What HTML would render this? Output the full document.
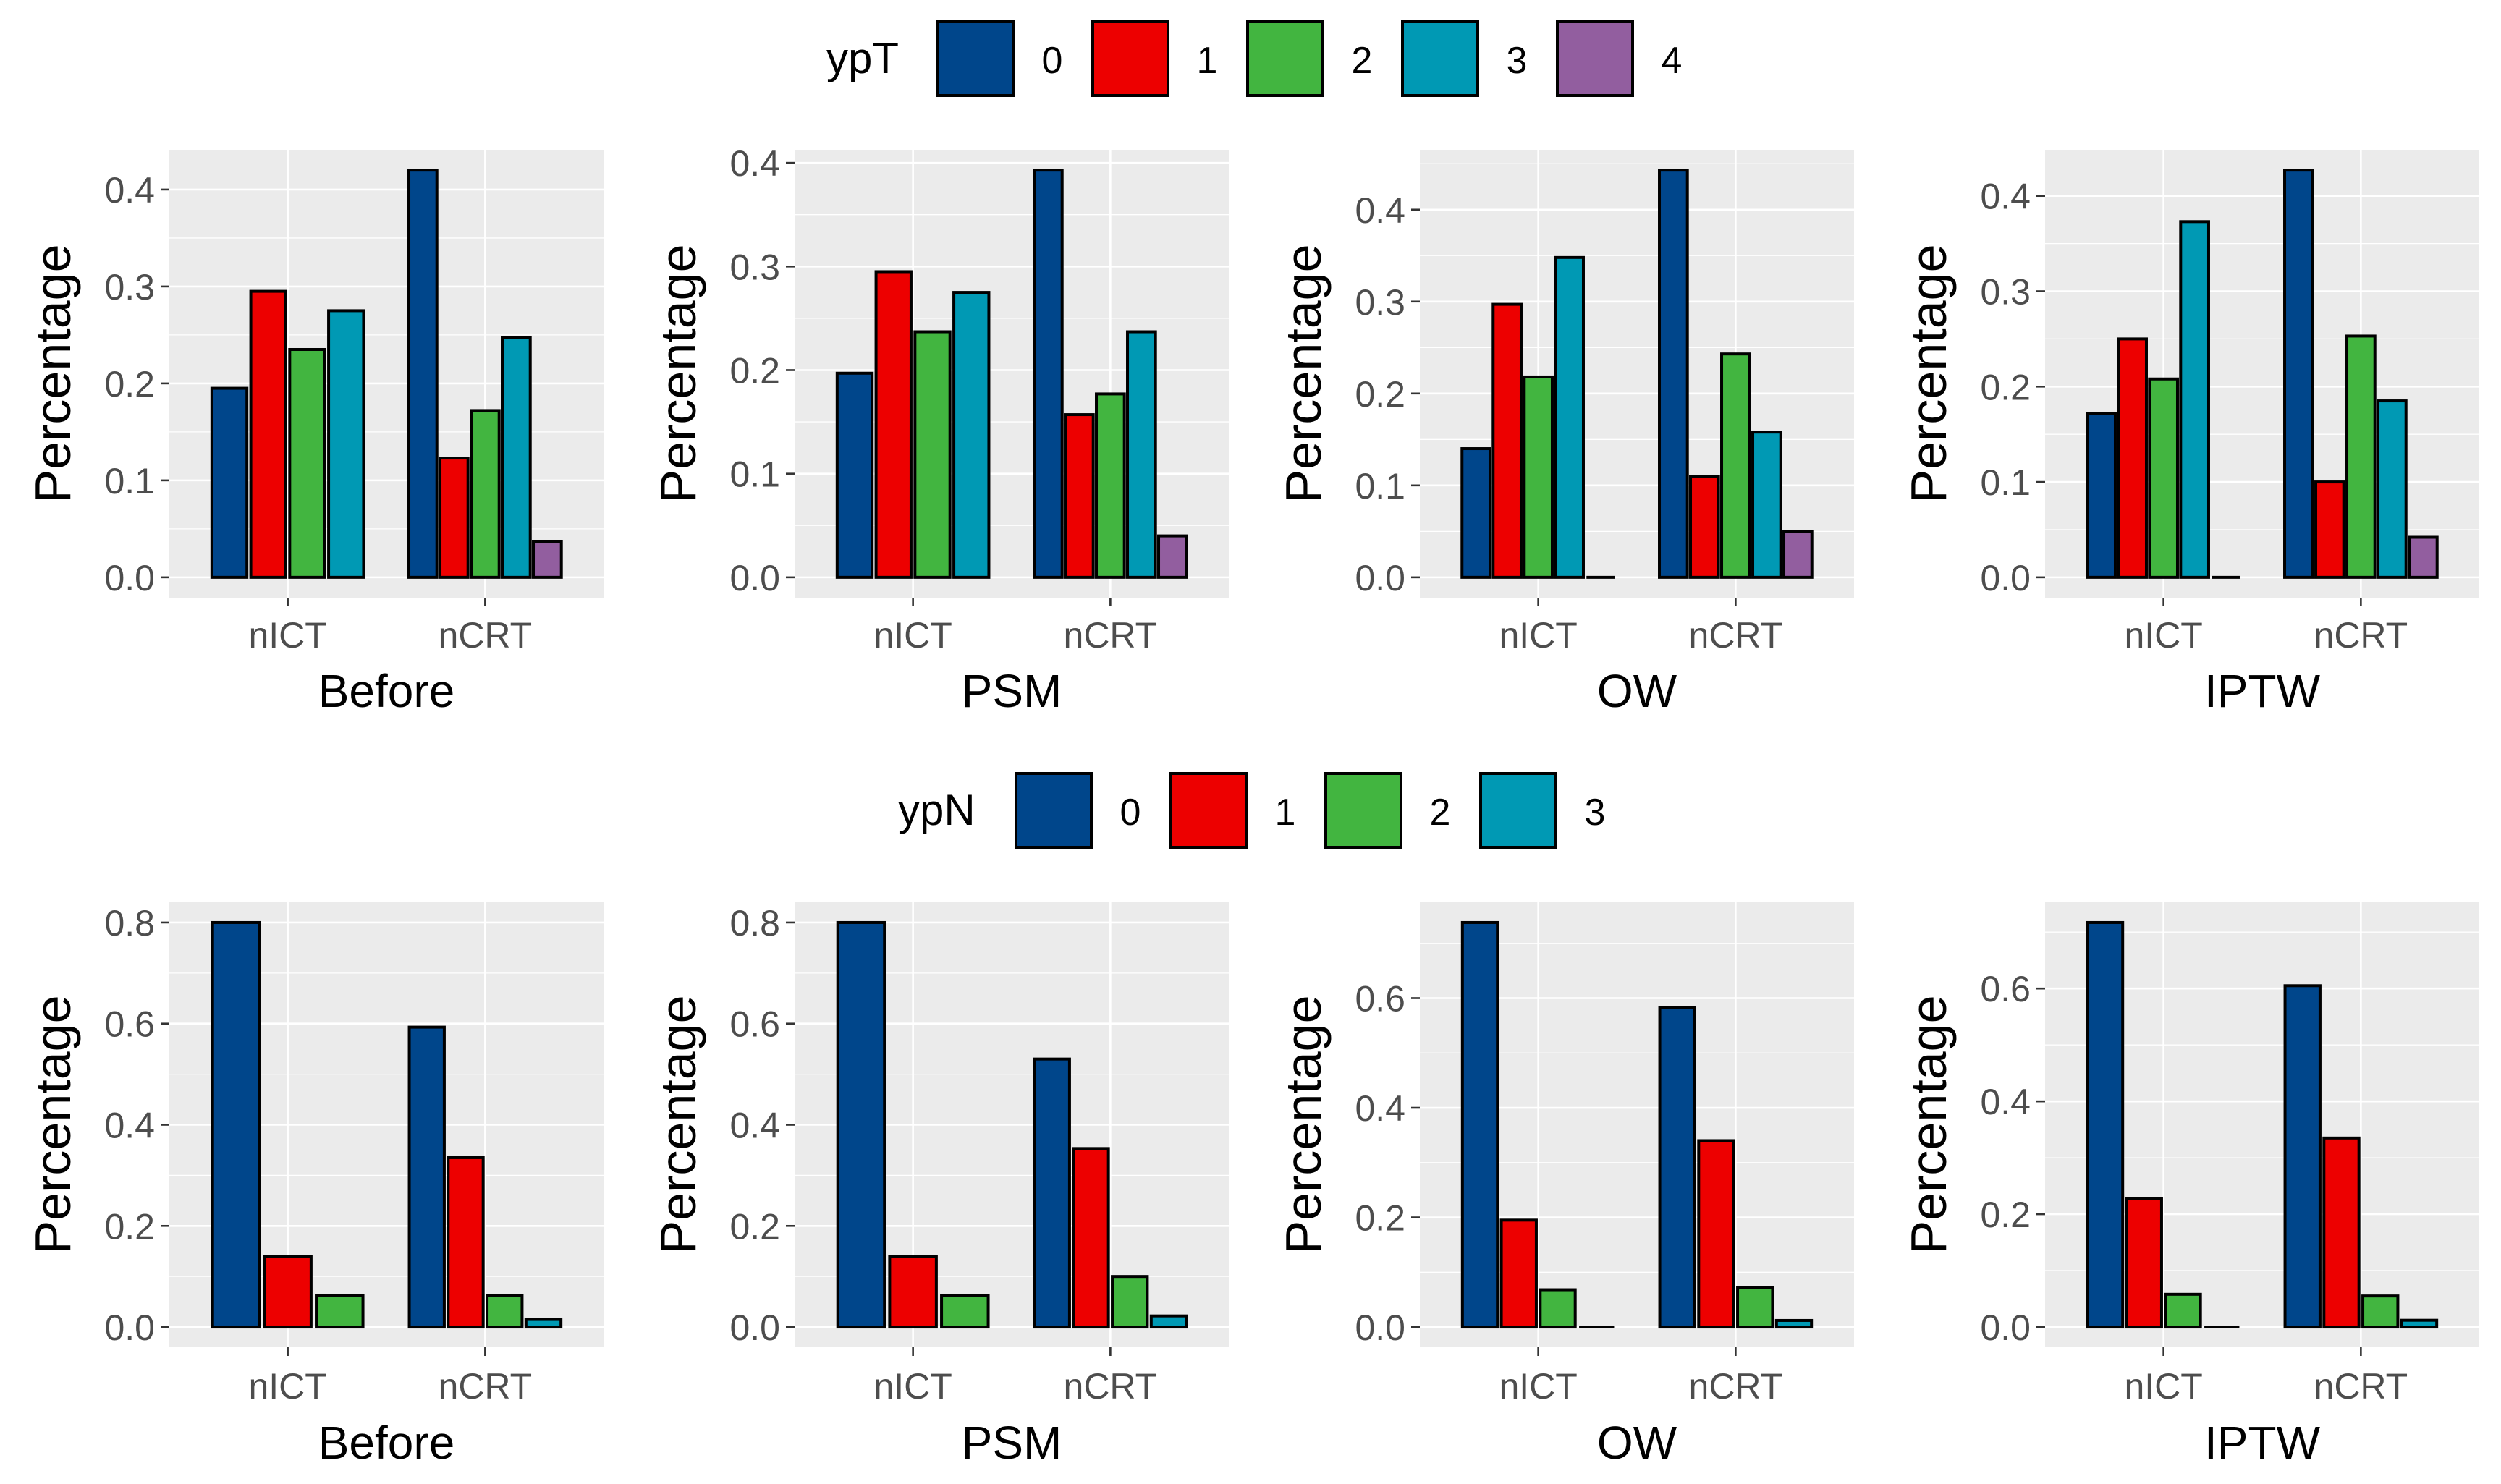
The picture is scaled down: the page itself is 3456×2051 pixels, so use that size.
<!DOCTYPE html>
<html><head><meta charset="utf-8"><style>
html,body{margin:0;padding:0;background:#fff;}
svg{display:block;font-family:"Liberation Sans",Arial,sans-serif;}
</style></head><body>
<svg id="chart" width="3456" height="2051" viewBox="0 0 3456 2051" xmlns="http://www.w3.org/2000/svg"></svg>
<script>
const groups = ["nICT","nCRT"];
const methods = ["Before","PSM","OW","IPTW"];
const colors = ["#00468B","#ED0000","#42B540","#0099B4","#925E9F"];
// Top row (ypT) values per method: [nICT values, nCRT values]
const ypT_Before = [[0.195,0.295,0.235,0.275],[0.42,0.123,0.172,0.247,0.037]];
const ypT_PSM = [[0.197,0.295,0.237,0.275],[0.393,0.157,0.177,0.237,0.04]];
const ypT_OW = [[0.14,0.297,0.218,0.348,0],[0.443,0.11,0.243,0.158,0.05]];
const ypT_IPTW = [[0.172,0.25,0.208,0.373,0],[0.427,0.1,0.253,0.185,0.042]];
// Bottom row (ypN)
const ypN_Before = [[0.80,0.14,0.063],[0.593,0.335,0.063,0.015]];
const ypN_PSM = [[0.80,0.14,0.063],[0.53,0.353,0.1,0.022]];
const ypN_OW = [[0.738,0.195,0.068,0],[0.583,0.34,0.072,0.012]];
const ypN_IPTW = [[0.717,0.228,0.058,0],[0.605,0.335,0.055,0.012]];
const ypTLevels = ["0","1","2","3","4"];
const ypNLevels = ["0","1","2","3"];
const topTicks = [0,0.1,0.2,0.3,0.4];
const botTicks = [0,0.2,0.4,0.6,0.8];

const NS="http://www.w3.org/2000/svg";
const svg=document.getElementById('chart');
function mk(tag,attrs,parent){const e=document.createElementNS(NS,tag);for(const k in attrs)e.setAttribute(k,attrs[k]);(parent||svg).appendChild(e);return e;}

function panel(idx,row,data,ticks,minor,name){
  const left=234+idx*864, w=600;
  const top=row===0?207:1247, bottom=row===0?826:1862;
  const h=bottom-top;
  let max=0; data.forEach(g=>g.forEach(v=>{if(v>max)max=v;}));
  const span=h/1.1;
  const y0=bottom-h*0.05/1.1;
  const yS=v=>y0-v/max*span;
  const xS=p=>left+(p-0.4)/2.2*w;
  const g=mk('g',{});
  
  
  const bg=mk('rect',{x:left,y:top,width:w,height:h,fill:'#EBEBEB'},g);
  
  
  for(let t=minor;t<=max*1.05+1e-9;t+=2*minor){const yy=yS(t); if(yy<top||yy>bottom)continue;
    const l=mk('line',{x1:left,x2:left+w,y1:yy,y2:yy,stroke:'#fff','stroke-width':1.3},g);
    
    }
  ticks.forEach(t=>{const yy=yS(t); if(yy<top)return;
    const l=mk('line',{x1:left,x2:left+w,y1:yy,y2:yy,stroke:'#fff','stroke-width':2.6},g);
    
    
    const tk=mk('line',{x1:left-12,x2:left,y1:yy,y2:yy,stroke:'#333','stroke-width':2.6},g);
    
    
    const tx=mk('text',{x:left-20,y:yy+18,'text-anchor':'end','font-size':50,fill:'#4D4D4D'},g);
    tx.textContent=t.toFixed(1);
    
    
  });
  groups.forEach((gn,gi)=>{const cx=xS(gi+1);
    const vl=mk('line',{x1:cx,x2:cx,y1:top,y2:bottom,stroke:'#fff','stroke-width':2.6},g);
    
    
    const tk=mk('line',{x1:cx,x2:cx,y1:bottom,y2:bottom+12,stroke:'#333','stroke-width':2.6},g);
    
    
    const tx=mk('text',{x:cx,y:(row===0?895:1933),'text-anchor':'middle','font-size':50,fill:'#4D4D4D'},g);
    tx.textContent=gn;
    
    
    const vals=data[gi]; const n=vals.length; const spanW=215; const slot=spanW/n;
    vals.forEach((v,k)=>{const x=cx-spanW/2+k*slot+slot*0.05; const bw=slot*0.9;
      const yy=yS(v);
      if(y0-yy<1){
        const r=mk('line',{x1:x,x2:x+bw,y1:y0,y2:y0,stroke:'#000','stroke-width':4},g);
        
        
      } else {
        const r=mk('rect',{x:x,y:yy,width:bw,height:y0-yy,fill:colors[k],stroke:'#000','stroke-width':4},g);
        
        
      }
    });
  });
  const yt=mk('text',{x:0,y:0,'text-anchor':'middle','font-size':70,fill:'#000',transform:`translate(${left-137},${(top+bottom)/2}) rotate(-90)`},g);
  yt.textContent='Percentage';
  
  
  const xt=mk('text',{x:left+w/2,y:(row===0?977:2016),'text-anchor':'middle','font-size':64,fill:'#000'},g);
  xt.textContent=name;
  
  
}
const topData=[ypT_Before,ypT_PSM,ypT_OW,ypT_IPTW];
const botData=[ypN_Before,ypN_PSM,ypN_OW,ypN_IPTW];
methods.forEach((m,i)=>{panel(i,0,topData[i],topTicks,0.05,m);panel(i,1,botData[i],botTicks,0.1,m);});

function legend(title,levels,titleX,keyX,keyY){
  const g=mk('g',{});
  
  
  const t=mk('text',{x:titleX,y:keyY+71,'font-size':60,fill:'#000'},g);
  t.textContent=title;
  
  
  levels.forEach((lv,k)=>{const x=keyX+k*214;
    const r=mk('rect',{x:x,y:keyY,width:104,height:102,fill:colors[k],stroke:'#000','stroke-width':4},g);
    
    
    const tx=mk('text',{x:x+158,y:keyY+71,'text-anchor':'middle','font-size':52,fill:'#000'},g);
    tx.textContent=lv;
    
    
  });
}
legend('ypT',ypTLevels,1142,1296,30);
legend('ypN',ypNLevels,1241,1404,1069);
</script>
</body></html>
